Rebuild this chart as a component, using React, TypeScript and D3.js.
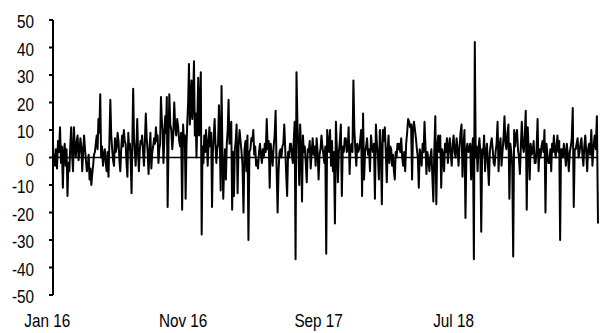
import React from "react";
import * as d3 from "d3";

// Observation window of the series
const startDate = new Date(2016, 0, 14);
const endDate = new Date(2019, 4, 21);

// Readings per calendar month, in order of observation
const readings2016: number[][] = [
  [5, -2, -3, 3, -4, 6, 2, 11],
  [-2, 4, -11, 2, 5, -3, 3, -14, -2, -5, 4, 11, 1, -5],
  [11, 3, 0, 6, 8, -1, 2, 7, 4, -5, 2, 8, 3, -1, -5],
  [-3, 1, -8, -4, -10, -6, -3, 1, 2, 5, 8, 3, 14, 9, 23],
  [0, 4, -3, 1, 3, -2, -5, 2, -7, 6, 21, 8, 3, -1, -3],
  [7, 2, 4, 9, 6, -1, -5, 3, 8, 4, 10, 6, 5, -2, -7],
  [9, 3, 5, -2, -13, 6, 25, 7, 2, -3, 4, 14, 2, -5, 2, 6, 5],
  [8, 2, -3, 6, 16, 7, 2, -6, 3, 9, -4, 2, 4, 7, 5],
  [11, 6, 8, -2, 3, 5, 22, 14, 10, -2, 6, 15, 9, 22, -18, 4],
  [23, 12, 10, 3, 8, 20, 11, 8, 14, 11, 6, 4, 9, -19],
  [12, 6, 8, -15, 4, 13, 20, 34, 12, 18, 28, 14, 22, 35, 8, 16],
  [0, 14, 29, 8, 18, 31, -28, 4, -2, 8, 2, 10, 5, -3, 6, 11],
];

const readings2017: number[][] = [
  [4, 9, -18, 2, 8, 14, 5, -2, 3, 5, 19, 6, -12, 26, 3, -15],
  [-4, 3, -8, 5, 10, 21, 5, 8, 13, -19, 2, -14, 3, 6],
  [12, -13, 4, 10, 6, 2, -3, -20, 3, 6, -5, 8, -30, 2],
  [3, 7, 6, 10, 1, 4, -3, -1, -4, 2, 5, 1, -2, 3],
  [0, 5, 2, 14, 3, 6, -11, 5, 1, -3, 4, 8, 17, -4],
  [-20, -5, 2, 3, 0, 4, 5, 12, 3, -6, -14, 2, 0, 5],
  [5, 1, -2, 6, 13, -37, 31, 13, 4, -10, 12, 3, -16, 8, 2],
  [4, -2, -9, 3, 2, 6, -4, 2, 7, 1, 4, -3, 7, 2],
  [-8, 1, 3, 8, 4, 1, -2, 4, -35, 10, 5, 2, 10, -3],
  [6, -5, 2, -24, 13, 3, -9, 2, 6, 12, -14, 4, 2, 7],
  [7, 2, 3, 11, -6, 4, 5, 2, 28, 10, 3, -3, 5, 2],
  [3, 6, 10, -14, 16, -8, 2, 4, 7, 1, 3, -5, 8, 4],
];

const readings2018: number[][] = [
  [2, 5, -15, 12, 5, 1, -8, 10, 3, -17, 10, 6, 11, 2],
  [-9, 3, 8, -2, 4, 3, -3, 1, -5, -8, 2, 0, 5, 3],
  [5, 2, 7, 0, -3, 2, -5, 5, 9, 14, 13, 11, 12, -8],
  [11, 13, 10, 7, 3, 0, -11, 3, 1, -3, 5, 2, 13, 4],
  [-6, 2, -1, -5, 0, 3, -7, -16, 3, 15, -17, 4, 8, 2],
  [8, -11, 3, 1, -5, 5, 2, 7, -2, 4, 7, 1, -3, 5],
  [8, 2, 0, 7, 3, -3, 4, 9, 12, -7, 4, 10, -22, 3],
  [5, 2, 3, 5, -8, 3, 7, -37, 42, 0, 4, -5, 3, 7, 2],
  [-27, 3, 1, 8, -5, 2, 5, -3, -10, 2, 5, 7, 3, -2],
  [-3, 2, 5, 13, -5, 4, 7, -3, 2, 7, 15, 5, 3, 9],
  [12, -15, 5, 2, -3, -36, 10, 4, 8, 10, 3, 0, -6, 4],
  [13, 4, 2, 8, 17, -19, 11, 3, -8, 5, 1, 2, 6, -2],
];

const readings2019: number[][] = [
  [-2, 3, 14, -5, 3, 0, 4, 6, 2, 10, -20, 5, 1, -2],
  [-2, 3, -5, 5, 2, 8, 3, 0, 4, 8, 2, 6, -30, 3],
  [3, 0, 5, 2, -3, 5, 1, -5, 2, 4, 7, 18, -18, 3],
  [3, 5, 7, 0, 2, 5, 7, 1, -3, 4, 8, 2, -5, 3],
  [5, 1, 10, -3, 4, 8, 3, 15, -24],
];

const xTickDates = [
  new Date(2016, 0, 1),
  new Date(2016, 10, 1),
  new Date(2017, 8, 1),
  new Date(2018, 6, 1),
];
const xTickLabels = ["Jan 16", "Nov 16", "Sep 17", "Jul 18"];
const yTicks = [-50, -40, -30, -20, -10, 0, 10, 20, 30, 40, 50];

type Point = { date: Date; value: number };

// Spread each month's readings evenly across that month (clipped to the window)
function buildSeries(): Point[] {
  const monthly = [...readings2016, ...readings2017, ...readings2018, ...readings2019];
  const points: Point[] = [];
  monthly.forEach((vals, m) => {
    const monthStart = +new Date(2016, m, 1);
    const monthEnd = +new Date(2016, m + 1, 1);
    const isLast = m === monthly.length - 1;
    const from = Math.max(monthStart, +startDate);
    const to = isLast ? +endDate : monthEnd;
    const n = vals.length;
    vals.forEach((v, i) => {
      const f = isLast ? i / (n - 1) : i / n;
      points.push({ date: new Date(from + (to - from) * f), value: v });
    });
  });
  return points;
}

const W = 600;
const H = 333;
const FONT = "'Liberation Sans', Arial, sans-serif";
const FONT_SIZE = 18;
const SQUEEZE = 0.85;

export default function App() {
  const series = buildSeries();
  const x = d3.scaleTime().domain([startDate, endDate]).range([53, 598]);
  const y = d3.scaleLinear().domain([-50, 50]).range([295, 20]);
  const line = d3
    .line<Point>()
    .x((d) => x(d.date))
    .y((d) => y(d.value));
  const axisX = x(startDate);

  return (
    <svg
      width={W}
      height={H}
      style={{ position: "absolute", left: 0, top: 0, background: "#fff" }}
      fontFamily={FONT}
    >
      <path d={line(series) ?? ""} fill="none" stroke="#000" strokeWidth={2} strokeLinejoin="round" />
      <line x1={axisX} x2={598} y1={y(0)} y2={y(0)} stroke="#000" strokeWidth={1.5} />
      <line x1={axisX} x2={axisX} y1={y(50)} y2={y(-50)} stroke="#000" strokeWidth={2} />
      {yTicks.map((t) => (
        <g key={t}>
          <line x1={axisX - 4} x2={axisX} y1={y(t)} y2={y(t)} stroke="#000" strokeWidth={2} />
          <text
            transform={`translate(34,${y(t) + 8}) scale(${SQUEEZE},1)`}
            textAnchor="end"
            fontSize={FONT_SIZE}
            fill="#000"
          >
            {t}
          </text>
        </g>
      ))}
      {xTickDates.map((d, i) => (
        <text
          key={i}
          transform={`translate(${x(d)},327) scale(${SQUEEZE},1)`}
          textAnchor="middle"
          fontSize={FONT_SIZE}
          fill="#000"
        >
          {xTickLabels[i]}
        </text>
      ))}
    </svg>
  );
}
